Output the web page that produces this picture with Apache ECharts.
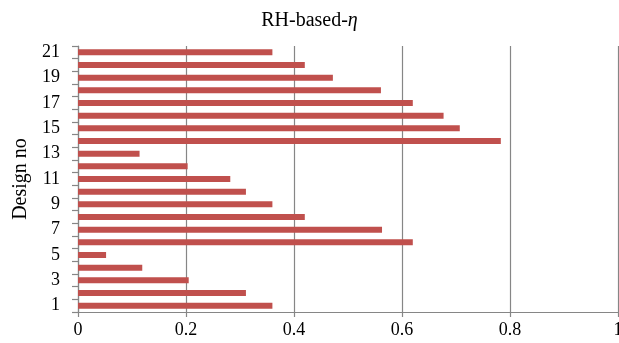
<!DOCTYPE html>
<html>
<head>
<meta charset="utf-8">
<script src="https://cdn.jsdelivr.net/npm/echarts@6/dist/echarts.min.js"></script>
<style>html,body{margin:0;padding:0;background:#fff}#c{width:619px;height:343px}</style>
</head>
<body>
<div id="c"></div>
<script>
var categories = ['1','2','3','4','5','6','7','8','9','10','11','12','13','14','15','16','17','18','19','20','21'];
var values = [0.36, 0.311, 0.205, 0.119, 0.052, 0.62, 0.563, 0.42, 0.36, 0.311, 0.282, 0.203, 0.114, 0.783, 0.707, 0.677, 0.62, 0.561, 0.472, 0.42, 0.36];
var xTicks = [0, 0.2, 0.4, 0.6, 0.8, 1];
var titleMain = 'RH-based-';
var titleSym = 'η';
var yName = 'Design no';

var serif = '"Liberation Serif", "Times New Roman", serif';
var chart = echarts.init(document.getElementById('c'), null, {renderer: 'canvas'});
chart.setOption({
  animation: false,
  backgroundColor: '#fff',
  title: {
    text: '{a|' + titleMain + '}{b|' + titleSym + '}',
    left: 'center',
    top: 6,
    textStyle: {
      fontWeight: 'normal',
      rich: {
        a: {fontFamily: serif, fontSize: 20, fontWeight: 'normal', color: '#000'},
        b: {fontFamily: serif, fontSize: 20, fontWeight: 'normal', fontStyle: 'italic', color: '#000'}
      }
    }
  },
  grid: {left: 78, right: 1, top: 46, bottom: 31, containLabel: false, outerBoundsMode: 'none'},
  xAxis: {
    type: 'value',
    min: xTicks[0],
    max: xTicks[xTicks.length - 1],
    interval: 0.2,
    axisLine: {show: true, lineStyle: {color: '#868686', width: 1.2}},
    axisTick: {show: true, length: 5, lineStyle: {color: '#868686', width: 1.2}},
    splitLine: {show: true, lineStyle: {color: '#868686', width: 1.2}},
    axisLabel: {fontFamily: serif, fontSize: 18, color: '#000', margin: 9,
      formatter: function (v) { return String(+v.toFixed(1)); }}
  },
  yAxis: {
    type: 'category',
    data: categories,
    name: yName,
    nameLocation: 'middle',
    nameGap: 40,
    nameTextStyle: {fontFamily: serif, fontSize: 20, color: '#000'},
    axisLine: {show: true, lineStyle: {color: '#868686', width: 1.2}},
    axisTick: {show: true, length: 6, interval: 0, lineStyle: {color: '#868686', width: 1.2}},
    axisLabel: {fontFamily: serif, fontSize: 18, color: '#000', interval: 1, margin: 18},
    splitLine: {show: false}
  },
  series: [{
    type: 'bar',
    data: values,
    barWidth: 6,
    itemStyle: {color: '#C0504D'}
  }]
});
</script>
</body>
</html>
